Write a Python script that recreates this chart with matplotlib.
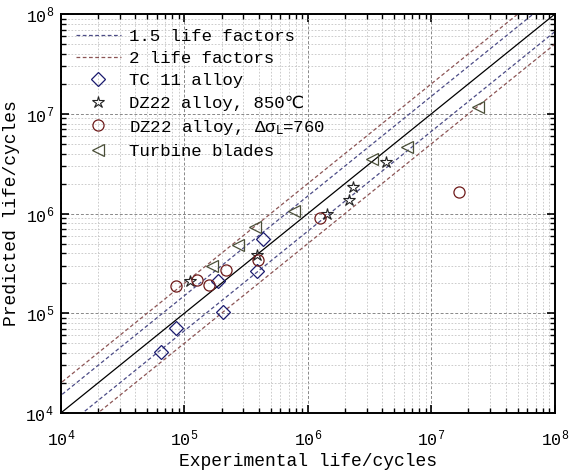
# Predicted vs experimental life, log-log scatter with life-factor bands
import numpy as np
import matplotlib
matplotlib.use('Agg')
import matplotlib.pyplot as plt

plt.rcParams['font.family'] = ['Liberation Mono', 'DejaVu Sans']
plt.rcParams['mathtext.default'] = 'regular'

# data (experimental, predicted)
tc11_exp = [6.45e4, 8.54e4, 2.06e5, 1.88e5, 3.90e5, 4.35e5]
tc11_pred = [4.06e4, 7.07e4, 1.04e5, 2.11e5, 2.68e5, 5.52e5]

dz850_exp = [1.12e5, 3.86e5, 1.44e6, 2.16e6, 2.34e6, 4.28e6]
dz850_pred = [2.13e5, 3.84e5, 9.89e5, 1.37e6, 1.83e6, 3.31e6]

dz760_exp = [8.54e4, 1.26e5, 1.57e5, 2.17e5, 3.96e5, 1.26e6, 1.68e7]
dz760_pred = [1.88e5, 2.18e5, 1.94e5, 2.73e5, 3.42e5, 9.02e5, 1.64e6]

blade_exp = [1.66e5, 2.73e5, 3.76e5, 7.71e5, 3.28e6, 6.37e6, 2.39e7]
blade_pred = [3.01e5, 4.89e5, 7.41e5, 1.07e6, 3.52e6, 4.61e6, 1.18e7]

factors = [1.5, 2]
band_colors = ['#4b4b86', '#8c5555']

fig = plt.figure(figsize=(5.69, 4.73), dpi=100)
ax = fig.add_axes([0.107, 0.127, 0.868, 0.843])

xs = np.array([1e3, 1e9])
ax.plot(xs, xs, color='black', lw=0.9)
for f, c in zip(factors, band_colors):
    lbl = '%g life factors' % f
    ax.plot(xs, xs * f, color=c, lw=0.9, ls=(0, (3, 2)), label=lbl)
    ax.plot(xs, xs / f, color=c, lw=0.9, ls=(0, (3, 2)))

ax.plot(tc11_exp, tc11_pred, ls='none', marker='D', ms=7, mfc='none',
        mec='#1a1a6e', mew=0.9, label='TC 11 alloy')
ax.plot(dz850_exp, dz850_pred, ls='none', marker='*', ms=9, mfc='none',
        mec='#222222', mew=0.8, label='DZ22 alloy, 850\u2103')
ax.plot(dz760_exp, dz760_pred, ls='none', marker='o', ms=8, mfc='none',
        mec='#6e1a1a', mew=0.9, label=r'DZ22 alloy, $\Delta\sigma_{\rm L}$=760')
ax.plot(blade_exp, blade_pred, ls='none', marker='<', ms=9, mfc='none',
        mec='#4a4f38', mew=0.9, label='Turbine blades')

ax.set_xscale('log')
ax.set_yscale('log')
ax.set_xlim(1e4, 1e8)
ax.set_ylim(1e4, 1e8)

ax.grid(True, which='major', color='#888888', ls=(0, (3, 2)), lw=0.7)
ax.grid(True, which='minor', color='#c4c4c4', ls=(0, (2, 2)), lw=0.6)
ax.set_axisbelow(True)

ax.tick_params(which='both', direction='in', top=True, right=True, labelsize=12)
ax.tick_params(which='major', length=6, width=1.2)
ax.tick_params(which='minor', length=3.5, width=1)
ax.tick_params(axis='x', which='major', pad=11)
ax.tick_params(axis='y', which='major', pad=5)
for s in ax.spines.values():
    s.set_linewidth(1.4)

ax.set_xlabel('Experimental life/cycles', fontsize=13, labelpad=3)
ax.set_ylabel('Predicted life/cycles', fontsize=13, labelpad=4)

ax.legend(loc='upper left', frameon=False, fontsize=12.5, handlelength=2.6,
          labelspacing=0.4, borderaxespad=0.45, handletextpad=0.5)

fig.savefig('out.png', dpi=100)
